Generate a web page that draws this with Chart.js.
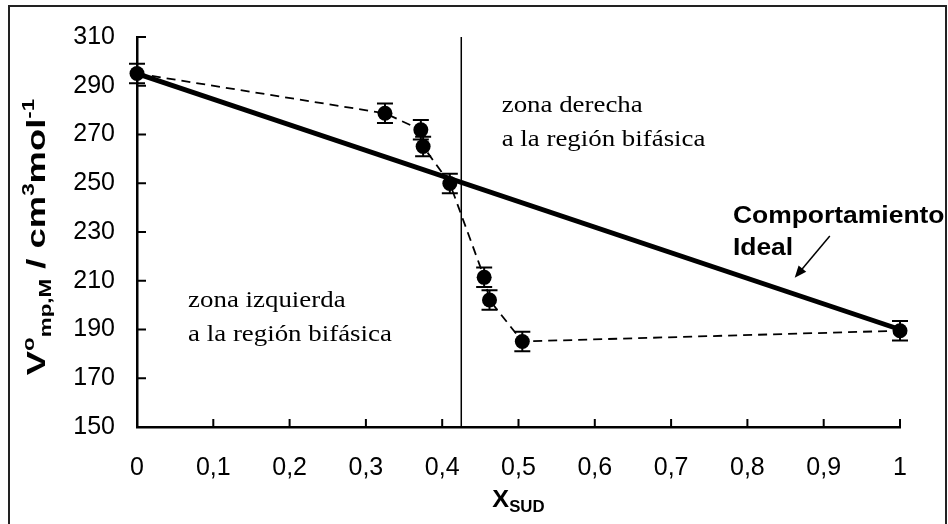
<!DOCTYPE html>
<html>
<head>
<meta charset="utf-8">
<script src="https://cdn.jsdelivr.net/npm/chart.js@4"></script>
<style>
  html, body { margin: 0; padding: 0; background: #fff; }
  #wrap { position: relative; width: 948px; height: 524px; }
  #frame { position: absolute; left: 8px; top: 5px; width: 935px; height: 530px;
           border: 2px solid #222; pointer-events: none; }
</style>
</head>
<body>
<div id="wrap">
  <canvas id="chart" width="948" height="524"></canvas>
  <div id="frame"></div>
</div>
<script>
// composition (x) vs apparent molar volume, with +/- error
const xSud = [0, 0.325, 0.372, 0.375, 0.41, 0.455, 0.462, 0.505, 1];
const vMolar = [295, 278.7, 271.9, 265.1, 249.9, 211.4, 202.1, 185.1, 189.5];
const vErr = [4, 4, 4, 4, 4, 4, 4, 4, 4];

// ideal mixing line between the pure components
const idealX = [0, 1];
const idealY = [295, 190];

// boundary of the two-phase region
const boundaryX = 0.425;

const xTicks = ["0", "0,1", "0,2", "0,3", "0,4", "0,5", "0,6", "0,7", "0,8", "0,9", "1"];
const yTicks = ["150", "170", "190", "210", "230", "250", "270", "290", "310"];

const SANS = "'Liberation Sans', Arial, sans-serif";
const SERIF = "'Liberation Serif', 'Times New Roman', serif";

// text notes placed in data coordinates
const notes = [
  { lines: ["zona derecha", "a la región bifásica"], x: 0.478, y: [279.4, 265.3], font: "24px " + SERIF, stretch: 1.12 },
  { lines: ["zona izquierda", "a la región bifásica"], x: 0.067, y: [199.4, 185.3], font: "24px " + SERIF, stretch: 1.12 },
  { lines: ["Comportamiento", "Ideal"], x: 0.781, y: [233.7, 220.7], font: "bold 23px " + SANS, stretch: 1.15 }
];
const arrow = { from: [0.908, 228.4], to: [0.862, 211.2] };

function pts(xs, ys) {
  return xs.map((x, i) => ({ x: x, y: ys[i] }));
}

// draws a run of text pieces with sub/superscripts, centred on cx
function drawRich(ctx, parts, cx, baseY, stretch) {
  let total = 0;
  parts.forEach(p => { ctx.font = p.font; p.w = ctx.measureText(p.t).width; total += p.w; });
  ctx.save();
  ctx.translate(cx, baseY);
  ctx.scale(stretch, 1);
  let pos = -total / 2;
  ctx.textBaseline = "alphabetic";
  ctx.textAlign = "left";
  parts.forEach(p => {
    ctx.font = p.font;
    ctx.fillText(p.t, pos, p.dy || 0);
    pos += p.w;
  });
  ctx.restore();
}

const extras = {
  id: "extras",
  afterDatasetsDraw(chart) {
    const { ctx, scales: { x, y }, chartArea } = chart;
    ctx.save();
    ctx.strokeStyle = "#000";
    ctx.fillStyle = "#000";

    // error bars
    ctx.lineWidth = 2;
    xSud.forEach((xv, i) => {
      const px = x.getPixelForValue(xv);
      const top = y.getPixelForValue(vMolar[i] + vErr[i]);
      const bot = y.getPixelForValue(vMolar[i] - vErr[i]);
      ctx.beginPath();
      ctx.moveTo(px, top); ctx.lineTo(px, bot);
      ctx.moveTo(px - 8, top); ctx.lineTo(px + 8, top);
      ctx.moveTo(px - 8, bot); ctx.lineTo(px + 8, bot);
      ctx.stroke();
    });

    // inward tick marks
    ctx.lineWidth = 2;
    ctx.beginPath();
    x.ticks.forEach(t => {
      const px = x.getPixelForValue(t.value);
      ctx.moveTo(px, chartArea.bottom); ctx.lineTo(px, chartArea.bottom - 8);
    });
    y.ticks.forEach(t => {
      const py = y.getPixelForValue(t.value);
      ctx.moveTo(chartArea.left, py); ctx.lineTo(chartArea.left + 9, py);
    });
    ctx.stroke();

    // notes
    notes.forEach(n => {
      ctx.font = n.font;
      ctx.textAlign = "left";
      ctx.textBaseline = "alphabetic";
      n.lines.forEach((line, i) => {
        ctx.save();
        ctx.translate(x.getPixelForValue(n.x), y.getPixelForValue(n.y[i]));
        ctx.scale(n.stretch, 1);
        ctx.fillText(line, 0, 0);
        ctx.restore();
      });
    });

    // arrow pointing at the ideal line
    const ax = x.getPixelForValue(arrow.from[0]), ay = y.getPixelForValue(arrow.from[1]);
    const bx = x.getPixelForValue(arrow.to[0]), by = y.getPixelForValue(arrow.to[1]);
    const ang = Math.atan2(by - ay, bx - ax);
    ctx.lineWidth = 1.5;
    ctx.beginPath();
    ctx.moveTo(ax, ay);
    ctx.lineTo(bx - 8 * Math.cos(ang), by - 8 * Math.sin(ang));
    ctx.stroke();
    ctx.beginPath();
    ctx.moveTo(bx, by);
    ctx.lineTo(bx - 12 * Math.cos(ang) + 5 * Math.sin(ang), by - 12 * Math.sin(ang) - 5 * Math.cos(ang));
    ctx.lineTo(bx - 12 * Math.cos(ang) - 5 * Math.sin(ang), by - 12 * Math.sin(ang) + 5 * Math.cos(ang));
    ctx.closePath();
    ctx.fill();

    // axis titles with sub/superscripts
    const big = "bold 26px " + SANS, small = "bold 16px " + SANS;
    ctx.save();
    ctx.translate(45, (chartArea.top + chartArea.bottom) / 2 + 5);
    ctx.rotate(-Math.PI / 2);
    drawRich(ctx, [
      { t: "V", font: big },
      { t: "o", font: small, dy: -11 },
      { t: "mp,M", font: small, dy: 6 },
      { t: " / cm", font: big },
      { t: "3", font: small, dy: -11 },
      { t: "mol", font: big },
      { t: "-1", font: small, dy: -11 }
    ], 0, 0, 1.4);
    ctx.restore();

    drawRich(ctx, [
      { t: "X", font: "bold 24px " + SANS },
      { t: "SUD", font: "bold 16px " + SANS, dy: 5 }
    ], (chartArea.left + chartArea.right) / 2, 507, 1.05);

    ctx.restore();
  }
};

new Chart(document.getElementById("chart"), {
  type: "scatter",
  data: {
    datasets: [
      {
        label: "experimental",
        data: pts(xSud, vMolar),
        showLine: true,
        borderColor: "#000",
        borderWidth: 1.8,
        borderDash: [9, 6],
        backgroundColor: "#000",
        pointRadius: 7.5,
        pointBorderWidth: 0,
        clip: false,
        order: 0
      },
      {
        label: "ideal",
        data: pts(idealX, idealY),
        showLine: true,
        borderColor: "#000",
        borderWidth: 5,
        pointRadius: 0,
        clip: false,
        order: 1
      },
      {
        label: "boundary",
        data: [{ x: boundaryX, y: 150 }, { x: boundaryX, y: 310 }],
        showLine: true,
        borderColor: "#000",
        borderWidth: 1.5,
        pointRadius: 0,
        order: 2
      }
    ]
  },
  options: {
    responsive: false,
    animation: false,
    layout: { padding: { left: 0, right: 48, top: 35, bottom: 0 } },
    plugins: { legend: { display: false }, tooltip: { enabled: false } },
    scales: {
      x: {
        type: "linear",
        min: 0, max: 1,
        ticks: {
          stepSize: 0.1,
          padding: 26,
          color: "#000",
          font: { family: SANS, size: 25 },
          maxRotation: 0,
          callback: (v, i) => xTicks[i]
        },
        grid: { display: false, drawTicks: false },
        border: { display: true, color: "#000", width: 2.5 },
        afterFit: s => { s.height = 97; }
      },
      y: {
        min: 150, max: 310,
        ticks: {
          stepSize: 20,
          padding: 22,
          color: "#000",
          font: { family: SANS, size: 25 },
          callback: (v, i) => yTicks[i]
        },
        grid: { display: false, drawTicks: false },
        border: { display: true, color: "#000", width: 2.5 },
        afterFit: s => { s.width = 137; }
      }
    }
  },
  plugins: [extras]
});
</script>
</body>
</html>
